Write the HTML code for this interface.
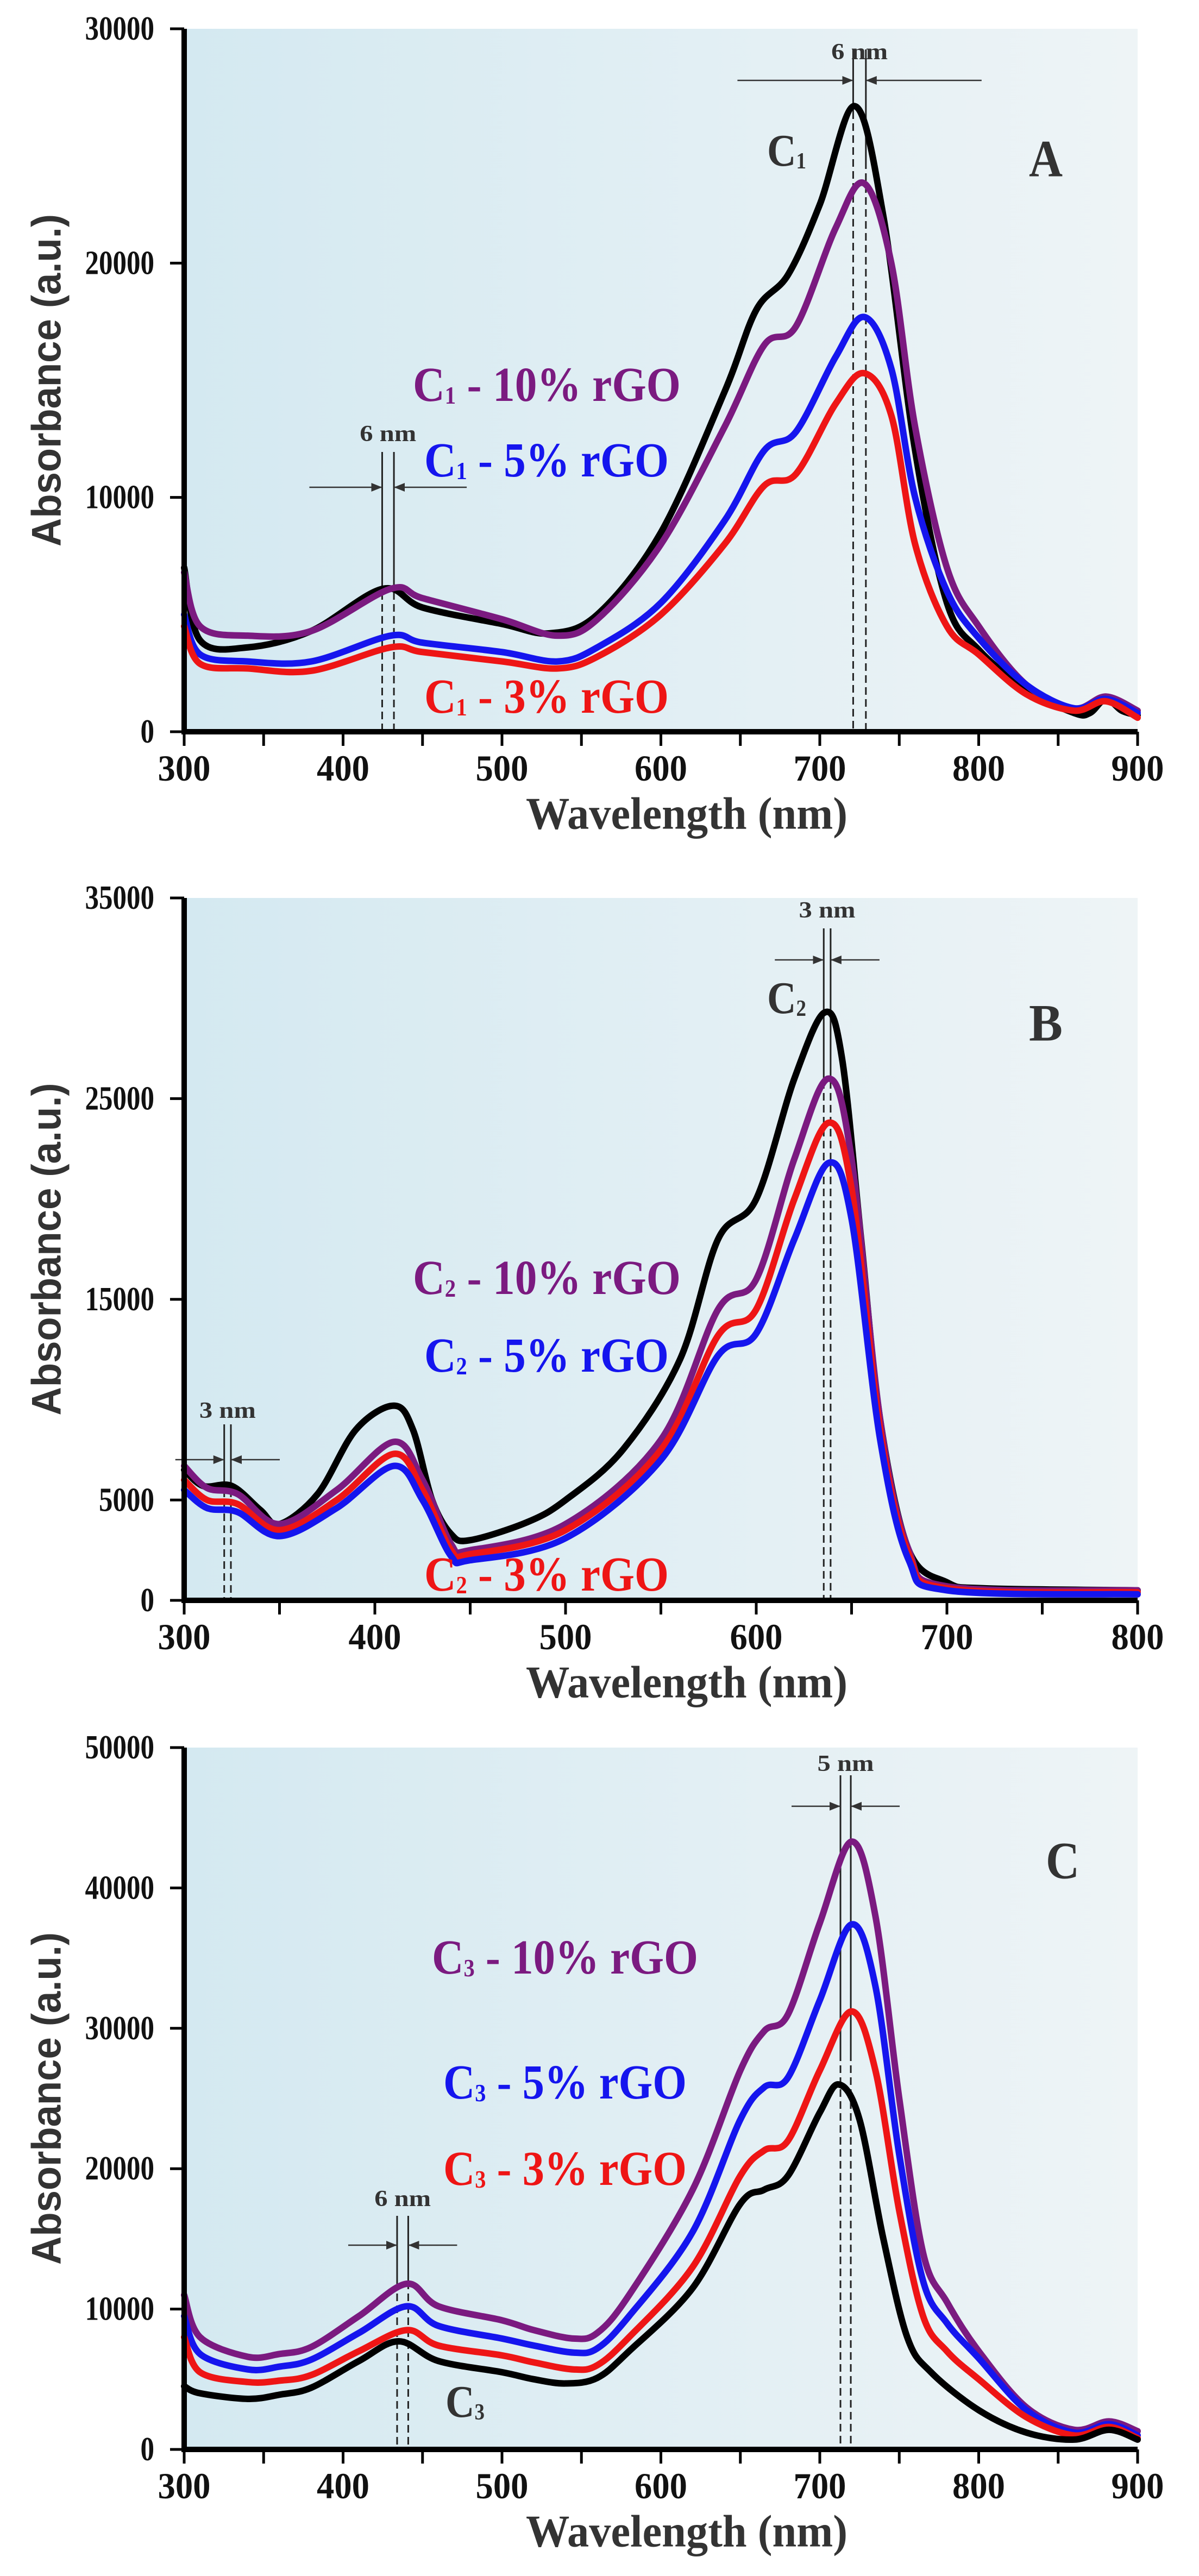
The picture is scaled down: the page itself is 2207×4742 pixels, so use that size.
<!DOCTYPE html>
<html><head><meta charset="utf-8"><style>
html,body{margin:0;padding:0;background:#fff}
svg{display:block}
text{font-family:"Liberation Serif",serif;font-weight:bold}
</style></head><body>
<svg id="fig" width="2207" height="4742" viewBox="0 0 2207 4742" xmlns="http://www.w3.org/2000/svg">
<defs><linearGradient id="bg" x1="0" x2="1" y1="0" y2="0"><stop offset="0" stop-color="#d4e9f1"/><stop offset="1" stop-color="#eef4f6"/></linearGradient>
<marker id="ar" viewBox="0 0 10 10" refX="10" refY="5" markerWidth="8" markerHeight="8" orient="auto-start-reverse"><path d="M0,1 L10,5 L0,9 z" fill="#333"/></marker></defs>
</svg>
<script>
// ---- Panel A data ----
const aWlBlack=[300,310,340,380,425,450,500,530,560,600,640,660,680,700,722,740,760,780,800,830,860,870,880,890,900];
const aBlack=[7000,3900,3600,4300,6100,5300,4600,4200,5000,8500,14500,18000,19500,22500,26700,22000,12000,5500,3500,1800,800,800,1400,900,700];
const aWl=[300,310,340,380,430,450,500,535,560,600,640,665,685,710,728,745,760,780,800,830,860,880,900];
const aPurple=[6800,4500,4100,4300,6100,5700,4800,4100,4800,8000,13000,16500,17300,21500,23400,20000,13000,7000,4500,2000,1000,1500,900];
const aBlue=[5000,3300,3000,3000,4100,3800,3400,3000,3600,5500,9000,12000,12800,16000,17700,15500,10000,6000,4000,2000,1000,1400,800];
const aRed=[4500,2900,2700,2600,3600,3400,3000,2700,3200,5000,8000,10500,11000,14000,15300,13500,8000,4500,3300,1600,900,1300,600];
const aYTicks=[0,10000,20000,30000];
const aXTicks=[300,400,500,600,700,800,900];
// ---- Panel B data ----
const bWlBlack=[300,310,325,340,350,370,390,410,420,430,440,450,480,500,530,560,580,600,620,636,645,655,665,680,700,720,800];
const bBlack=[6500,5700,5700,4500,3800,5300,8500,9700,8500,5000,3300,3000,3900,5000,7500,12000,18000,20000,26000,29300,27000,18000,9000,2500,900,600,500];
const bWl=[300,312,328,350,380,410,425,440,450,500,550,580,600,620,638,650,665,680,700,800];
const bPurple=[6700,5600,5300,3800,5500,7900,6000,2800,2500,3800,8000,14500,16000,22000,26000,22000,9000,2500,700,500];
const bRed=[6000,5000,4800,3500,5000,7300,5500,2500,2300,3500,7500,13200,14500,20000,23800,20500,8500,2300,600,400];
const bBlue=[5500,4600,4400,3200,4600,6700,5000,2200,2000,3100,7000,12200,13300,18000,21800,19000,8000,2000,500,300];
const bYTicks=[0,5000,15000,25000,35000];
const bXTicks=[300,400,500,600,700,800];
// ---- Panel C data ----
const cWl=[300,310,340,360,380,410,440,460,500,520,545,560,580,620,650,665,680,700,720,735,750,765,780,800,830,860,882,900];
const cPurple=[11000,8000,6600,6800,7300,9500,11800,10200,9200,8500,7900,8300,11000,18500,27000,29800,31000,37500,43300,38000,25000,14000,10500,7000,3000,1400,2000,1300];
const cBlue=[9500,6800,5700,5900,6400,8300,10200,8800,7900,7400,6900,7200,9500,15500,23500,25800,26500,32000,37400,33000,21000,12000,9000,6500,2800,1200,1800,1000];
const cRed=[8000,5500,4800,4900,5300,7000,8500,7400,6700,6200,5700,6000,8000,13000,19500,21300,22000,27000,31200,27000,17000,9500,7000,5000,2300,1000,1600,800];
const cWlBlack=[300,310,340,360,380,410,435,460,500,520,540,560,580,620,650,665,680,700,712,725,740,755,770,800,830,860,882,900];
const cBlack=[4500,4000,3600,3900,4400,6300,7700,6300,5500,5000,4700,5100,7000,11500,17500,18500,19500,24000,26000,23500,15000,8000,5500,2800,1200,700,1400,700];
const cYTicks=[0,10000,20000,30000,40000,50000];
const cXTicks=[300,400,500,600,700,800,900];

const NS="http://www.w3.org/2000/svg";
const svg=document.getElementById('fig');
function mk(tag,attrs,parent){const e=document.createElementNS(NS,tag);for(const k in attrs)e.setAttribute(k,attrs[k]);(parent||svg).appendChild(e);return e;}
function smooth(pts){let d=`M${pts[0][0]},${pts[0][1]}`;for(let i=0;i<pts.length-1;i++){const p0=pts[i-1]||pts[i],p1=pts[i],p2=pts[i+1],p3=pts[i+2]||p2;const c1x=p1[0]+(p2[0]-p0[0])/6,c1y=p1[1]+(p2[1]-p0[1])/6,c2x=p2[0]-(p3[0]-p1[0])/6,c2y=p2[1]-(p3[1]-p1[1])/6;d+=` C${c1x},${c1y} ${c2x},${c2y} ${p2[0]},${p2[1]}`;}return d;}

function panel(c){
  const g=mk('g',{});
  
  
  const X0=339,X1=2094;
  const sx=v=>X0+(v-c.xmin)/(c.xmax-c.xmin)*(X1-X0);
  const sy=v=>c.yb-(v/c.ymax)*(c.yb-c.yt);
  const bg=mk('rect',{x:X0,y:c.yt,width:X1-X0,height:c.yb-c.yt,fill:'url(#bg)'},g);
  
  
  c.marks.forEach(m=>{
    m.wl.forEach((w,i)=>{
      const x=sx(w);
      const l1=mk('line',{x1:x,x2:x,y1:m.top,y2:m.solidEnd[i],stroke:'#222','stroke-width':3},g);
      
      
      const l2=mk('line',{x1:x,x2:x,y1:m.solidEnd[i],y2:c.yb,stroke:'#222','stroke-width':3,'stroke-dasharray':'14,8'},g);
      
      
    });
    const xa=sx(m.wl[0]),xb=sx(m.wl[1]);
    const a1=mk('line',{x1:xa-m.arm,x2:xa,y1:m.ay,y2:m.ay,stroke:'#333','stroke-width':2.5,'marker-end':'url(#ar)'},g);
    
    
    const a2=mk('line',{x1:xb+m.arm,x2:xb,y1:m.ay,y2:m.ay,stroke:'#333','stroke-width':2.5,'marker-end':'url(#ar)'},g);
    
    
    const t=mk('text',{x:(xa+xb)/2,y:m.ty,'font-size':42,'text-anchor':'middle','dominant-baseline':'central',fill:'#333',textLength:m.label.length*26,lengthAdjust:'spacingAndGlyphs'},g);
    t.textContent=m.label;
    
    
  });
  c.series.forEach(s=>{
    const pts=s.x.map((w,i)=>[sx(w),sy(s.y[i])]);
    const p=mk('path',{d:smooth(pts),fill:'none',stroke:s.color,'stroke-width':12,'stroke-linejoin':'round','stroke-linecap':'round'},g);
    
    
  });
  const ax=mk('path',{d:`M${X0},${c.yt} V${c.yb} H${X1}`,fill:'none',stroke:'#000','stroke-width':10},g);
  
  
  c.yTicks.forEach(v=>{
    const y=sy(v);
    mk('line',{x1:X0-26,x2:X0,y1:y,y2:y,stroke:'#000','stroke-width':5},g);
    const s=String(v);
    const t=mk('text',{x:284,y:y,'font-size':62,'text-anchor':'end','dominant-baseline':'central',fill:'#111',textLength:s.length*25.5,lengthAdjust:'spacingAndGlyphs'},g);
    t.textContent=s;
    
    
  });
  for(let v=c.xmin;v<=c.xmax;v+=50){
    mk('line',{x1:sx(v),x2:sx(v),y1:c.yb,y2:c.yb+26,stroke:'#000','stroke-width':5},g);
  }
  c.xTicks.forEach(v=>{
    const t=mk('text',{x:sx(v),y:c.yb+67,'font-size':68,'text-anchor':'middle','dominant-baseline':'central',fill:'#111',textLength:97,lengthAdjust:'spacingAndGlyphs'},g);
    t.textContent=v;
    
    
  });
  const xt=mk('text',{x:1264,y:c.yb+151,'font-size':84,'text-anchor':'middle','dominant-baseline':'central',fill:'#333',textLength:592,lengthAdjust:'spacingAndGlyphs'},g);
  xt.textContent='Wavelength (nm)';
  
  
  const cy=(c.yt+c.yb)/2;
  const yt=mk('text',{x:0,y:0,'font-size':76,'text-anchor':'middle','dominant-baseline':'central',fill:'#333',transform:`translate(86,${cy}) rotate(-90)`,textLength:612,lengthAdjust:'spacingAndGlyphs',style:'font-family:"Liberation Sans",sans-serif'},g);
  yt.textContent='Absorbance (a.u.)';
  
  
  const L=mk('text',{x:c.letter[0],y:c.letter[1],'font-size':96,'text-anchor':'middle','dominant-baseline':'central',fill:'#333',textLength:62,lengthAdjust:'spacingAndGlyphs'},g);
  L.textContent=c.letter[2];
  
  
  c.labels.forEach(lb=>{
    const fs=lb.fs||90;
    const attrs={x:lb.x,y:lb.y,'font-size':fs,'dominant-baseline':'central',fill:lb.color};
    if(lb.w){attrs.textLength=lb.w;attrs.lengthAdjust='spacingAndGlyphs';}
    const t=mk('text',attrs,g);
    
    
    const a=mk('tspan',{},t);a.textContent='C';
    const b=mk('tspan',{'font-size':fs*0.5,dy:20},t);b.textContent=c.sub;
    if(lb.text){const d=mk('tspan',{dy:-20},t);d.textContent=lb.text;}
  });
}

panel({name:'panel-a',xmin:300,xmax:900,ymax:30000,yt:53,yb:1347,yTicks:aYTicks,xTicks:aXTicks,sub:'1',
 series:[{name:'c1-pristine-line',x:aWlBlack,y:aBlack,color:'#000'},{name:'c1-10pct-line',x:aWl,y:aPurple,color:'#7b1a80'},{name:'c1-5pct-line',x:aWl,y:aBlue,color:'#1515ee'},{name:'c1-3pct-line',x:aWl,y:aRed,color:'#ee1515'}],
 marks:[{wl:[721,729],top:91,solidEnd:[205,297],ay:148,arm:213,ty:96,label:'6 nm'},{wl:[424.6,432],top:832,solidEnd:[1090,1090],ay:897,arm:134,ty:799,label:'6 nm'}],
 letter:[1925,292,'A'],
 labels:[{name:'c1-curve-label',x:1412,y:277,color:'#333',fs:84,text:'',w:72},{name:'c1-10pct-label',x:760,y:708,color:'#7b1a80',text:' - 10% rGO',w:493},{name:'c1-5pct-label',x:781,y:847,color:'#1515ee',text:' - 5% rGO',w:450},{name:'c1-3pct-label',x:781,y:1282,color:'#ee1515',text:' - 3% rGO',w:450}]});

panel({name:'panel-b',xmin:300,xmax:800,ymax:35000,yt:1653,yb:2946,yTicks:bYTicks,xTicks:bXTicks,sub:'2',
 series:[{name:'c2-pristine-line',x:bWlBlack,y:bBlack,color:'#000'},{name:'c2-10pct-line',x:bWl,y:bPurple,color:'#7b1a80'},{name:'c2-3pct-line',x:bWl,y:bRed,color:'#ee1515'},{name:'c2-5pct-line',x:bWl,y:bBlue,color:'#1515ee'}],
 marks:[{wl:[635.4,639],top:1709,solidEnd:[1990,1990],ay:1767,arm:90,ty:1676,label:'3 nm'},{wl:[321,324.5],top:2622,solidEnd:[2720,2720],ay:2687,arm:90,ty:2597,label:'3 nm'}],
 letter:[1925,1883,'B'],
 labels:[{name:'c2-curve-label',x:1412,y:1837,color:'#333',fs:84,text:'',w:72},{name:'c2-10pct-label',x:760,y:2352,color:'#7b1a80',text:' - 10% rGO',w:493},{name:'c2-5pct-label',x:781,y:2495,color:'#1515ee',text:' - 5% rGO',w:450},{name:'c2-3pct-label',x:781,y:2898,color:'#ee1515',text:' - 3% rGO',w:450}]});

panel({name:'panel-c',xmin:300,xmax:900,ymax:50000,yt:3217,yb:4509,yTicks:cYTicks,xTicks:cXTicks,sub:'3',
 series:[{name:'c3-10pct-line',x:cWl,y:cPurple,color:'#7b1a80'},{name:'c3-5pct-line',x:cWl,y:cBlue,color:'#1515ee'},{name:'c3-3pct-line',x:cWl,y:cRed,color:'#ee1515'},{name:'c3-pristine-line',x:cWlBlack,y:cBlack,color:'#000'}],
 marks:[{wl:[713,719.5],top:3268,solidEnd:[3780,3780],ay:3325,arm:90,ty:3247,label:'5 nm'},{wl:[434,441],top:4079,solidEnd:[4200,4200],ay:4133,arm:90,ty:4048,label:'6 nm'}],
 letter:[1956,3425,'C'],
 labels:[{name:'c3-curve-label',x:820,y:4421,color:'#333',fs:84,text:'',w:72},{name:'c3-10pct-label',x:795,y:3603,color:'#7b1a80',text:' - 10% rGO',w:490},{name:'c3-5pct-label',x:816,y:3833,color:'#1515ee',text:' - 5% rGO',w:448},{name:'c3-3pct-label',x:816,y:3992,color:'#ee1515',text:' - 3% rGO',w:448}]});
</script>
</body></html>
